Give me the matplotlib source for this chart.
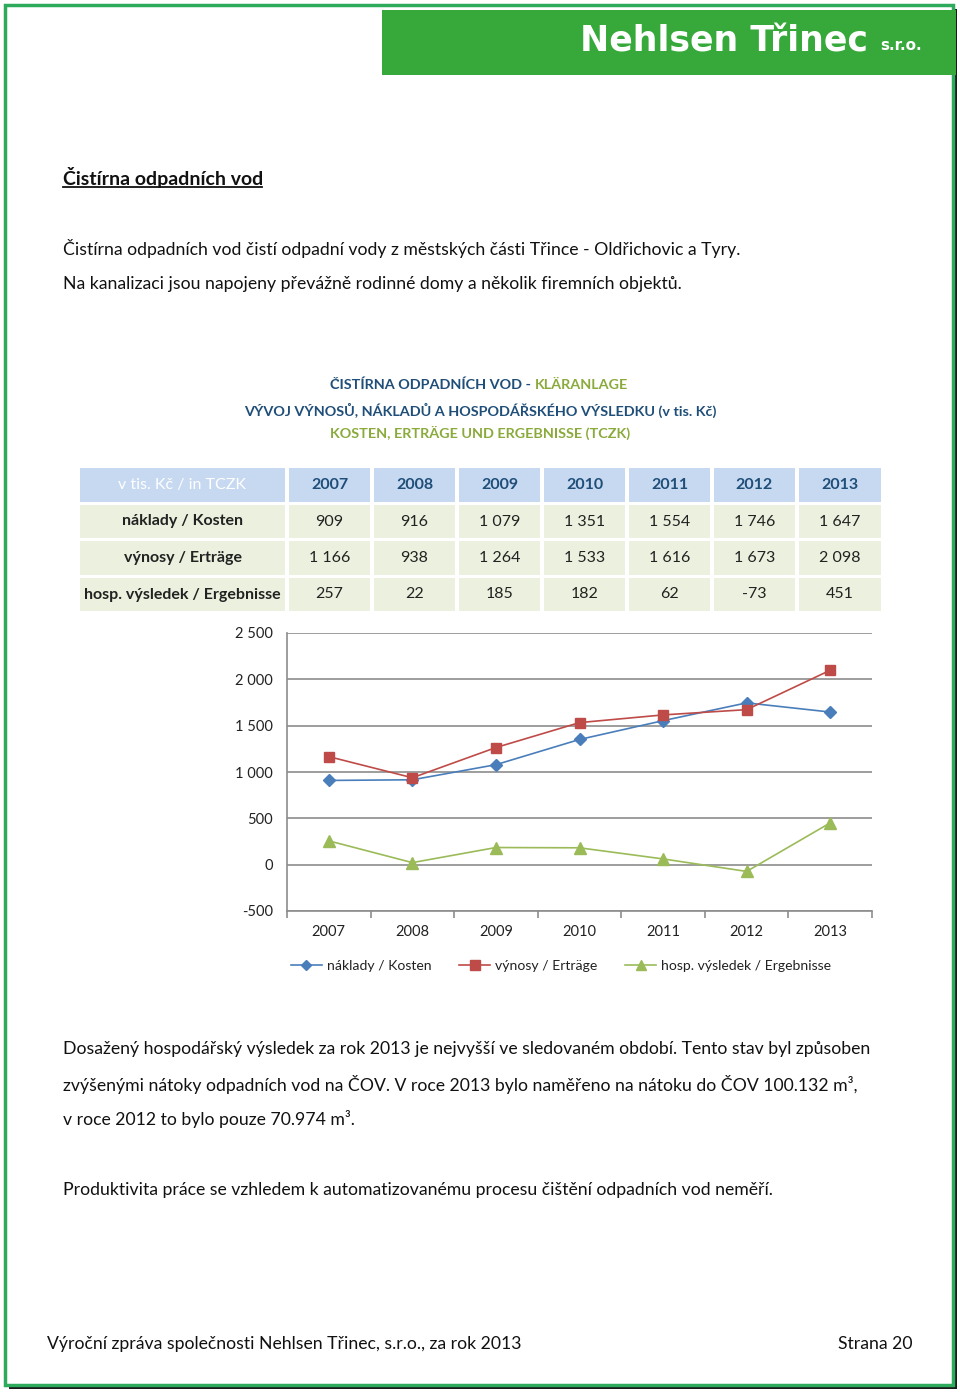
import matplotlib
matplotlib.use("Agg")
import matplotlib.pyplot as plt
from matplotlib.patches import Rectangle
from matplotlib.lines import Line2D

years = ["2007", "2008", "2009", "2010", "2011", "2012", "2013"]
naklady = [909, 916, 1079, 1351, 1554, 1746, 1647]
vynosy = [1166, 938, 1264, 1533, 1616, 1673, 2098]
vysledek = [257, 22, 185, 182, 62, -73, 451]
row_labels = ["náklady / Kosten", "výnosy / Erträge", "hosp. výsledek / Ergebnisse"]
yticks = [-500, 0, 500, 1000, 1500, 2000, 2500]

FONT = ["Lato", "DejaVu Sans"]
plt.rcParams["font.family"] = FONT

W, H = 960, 1392
fig = plt.figure(figsize=(W / 100, H / 100), dpi=100)
bg = fig.add_axes([0, 0, 1, 1])
bg.set_xlim(0, W)
bg.set_ylim(H, 0)
bg.axis("off")

def fmt(v):
    s = f"{abs(v):,}".replace(",", " ")
    return ("-" if v < 0 else "") + s

# page border
bg.add_patch(Rectangle((9, 9), W - 9 - 3, H - 9 - 3, facecolor="#1a1a1a", edgecolor="none", zorder=0))
bg.add_patch(Rectangle((5, 5), W - 12, H - 12, facecolor="white", edgecolor="#2eaa5c", lw=2.5, zorder=1))

# header banner
bg.add_patch(Rectangle((382, 10), 574, 65, facecolor="#37a93a", edgecolor="none", zorder=2))
bg.text(580, 42, "Nehlsen Třinec", color="white", fontsize=25, fontweight="bold",
        family=["DejaVu Sans"], va="center", ha="left", zorder=3)
bg.text(880, 46, "s.r.o.", color="white", fontsize=11, fontweight="bold",
        family=["DejaVu Sans"], va="center", ha="left", zorder=3)

BS = 12.7
body = dict(fontsize=BS, color="#111111", va="center", ha="left", zorder=3)
bg.text(63, 177, "Čistírna odpadních vod", fontsize=14.0, fontweight="bold",
        color="#111111", va="center", ha="left", zorder=3)
bg.plot([63, 262], [187, 187], color="#111111", lw=1.3, zorder=3)
bg.text(63, 249, "Čistírna odpadních vod čistí odpadní vody z městských části Třince - Oldřichovic a Tyry.", **body)
bg.text(63, 284, "Na kanalizaci jsou napojeny převážně rodinné domy a několik firemních objektů.", **body)

# chart titles
DB = "#1f4e79"
OG = "#8aaa3c"
TS = 10.4
bg.text(535, 385, "ČISTÍRNA ODPADNÍCH VOD - ", color=DB, fontsize=TS, fontweight="bold",
        ha="right", va="center", zorder=3)
bg.text(535, 385, "KLÄRANLAGE", color=OG, fontsize=TS, fontweight="bold",
        ha="left", va="center", zorder=3)
bg.text(480, 410, "VÝVOJ VÝNOSŮ, NÁKLADŮ A HOSPODÁŘSKÉHO VÝSLEDKU (v tis. Kč)", color=DB,
        fontsize=TS, fontweight="bold", ha="center", va="center", zorder=3)
bg.text(480, 433, "KOSTEN, ERTRÄGE UND ERGEBNISSE (TCZK)", color=OG, fontsize=TS,
        fontweight="bold", ha="center", va="center", zorder=3)

# table
col_x = [80, 289, 374, 459, 544, 629, 714, 799]
col_w = [205, 81, 81, 81, 81, 81, 81, 82]
row_y = [468, 505, 541, 578]
row_h = [34, 33, 34, 33]
HB = "#c6d9f1"
CG = "#ebf1de"
CS = 11.5
for ri in range(4):
    for ci in range(8):
        fc = HB if ri == 0 else CG
        bg.add_patch(Rectangle((col_x[ci], row_y[ri]), col_w[ci], row_h[ri],
                               facecolor=fc, edgecolor="none", zorder=2))
        cx = col_x[ci] + col_w[ci] / 2
        cy = row_y[ri] + row_h[ri] / 2
        if ri == 0 and ci == 0:
            bg.text(cx, cy, "v tis. Kč / in TCZK", color="white", fontsize=CS,
                    ha="center", va="center", zorder=3)
        elif ri == 0:
            bg.text(cx, cy, years[ci - 1], color=DB, fontsize=CS, fontweight="bold",
                    ha="center", va="center", zorder=3)
        elif ci == 0:
            bg.text(cx, cy, row_labels[ri - 1], color="#222222", fontsize=CS,
                    fontweight="bold", ha="center", va="center", zorder=3)
        else:
            vals = [naklady, vynosy, vysledek][ri - 1]
            bg.text(cx, cy, fmt(vals[ci - 1]), color="#222222", fontsize=CS,
                    ha="center", va="center", zorder=3)

# chart
L, R, T, B = 287, 872, 633, 911
ax = fig.add_axes([L / W, 1 - B / H, (R - L) / W, (B - T) / H])
ax.set_facecolor("none")
x = list(range(len(years)))
BLUE, RED, GREEN = "#4a7ebb", "#be4b48", "#9bbb59"
ax.plot(x, naklady, color=BLUE, lw=1.2, marker="D", ms=6, markeredgecolor=BLUE, zorder=4)
ax.plot(x, vynosy, color=RED, lw=1.2, marker="s", ms=7.5, markeredgecolor=RED, zorder=4)
ax.plot(x, vysledek, color=GREEN, lw=1.2, marker="^", ms=8, markeredgecolor=GREEN, zorder=4)
ax.set_xlim(-0.5, 6.5)
ax.set_ylim(-500, 2500)
ax.set_yticks(yticks)
ax.set_yticklabels([fmt(v) for v in yticks], fontsize=10.5, color="#222222")
ax.set_xticks(x)
ax.set_xticklabels(years, fontsize=10.5, color="#222222")
ax.tick_params(axis="x", length=0, pad=10)
ax.tick_params(axis="y", length=0, pad=10)
for v in yticks:
    ax.axhline(v, color="#8c8c8c", lw=1.2, zorder=1)
for s in ["top", "right"]:
    ax.spines[s].set_visible(False)
ax.spines["left"].set_color("#8c8c8c")
ax.spines["bottom"].set_color("#8c8c8c")
ax.spines["left"].set_linewidth(1.2)
ax.spines["bottom"].set_linewidth(1.2)
ax.set_xticks([i + 0.5 for i in range(-1, 7)], minor=True)
ax.tick_params(axis="x", which="minor", length=5, color="#8c8c8c", width=1.2)

handles = [
    Line2D([], [], color=BLUE, marker="D", ms=5, lw=1.2),
    Line2D([], [], color=RED, marker="s", ms=7, lw=1.2),
    Line2D([], [], color=GREEN, marker="^", ms=7, lw=1.2),
]
fig.legend(handles, row_labels, loc="center", bbox_to_anchor=(561 / W, 1 - 966 / H),
           ncol=3, frameon=False, fontsize=10.1, handlelength=2.2, columnspacing=2.0,
           handletextpad=0.35, labelcolor="#222222")

bg.text(63, 1049, "Dosažený hospodářský výsledek za rok 2013 je nejvyšší ve sledovaném období. Tento stav byl způsoben", **body)
bg.text(63, 1084, "zvýšenými nátoky odpadních vod na ČOV. V roce 2013 bylo naměřeno na nátoku do ČOV 100.132 m³,", **body)
bg.text(63, 1119, "v roce 2012 to bylo pouze 70.974 m³.", **body)
bg.text(63, 1190, "Produktivita práce se vzhledem k automatizovanému procesu čištění odpadních vod neměří.", **body)

bg.text(47, 1344, "Výroční zpráva společnosti Nehlsen Třinec, s.r.o., za rok 2013", **body)
bg.text(913, 1344, "Strana 20", fontsize=BS, color="#111111", va="center", ha="right", zorder=3)

fig.savefig("out.png", dpi=100)
